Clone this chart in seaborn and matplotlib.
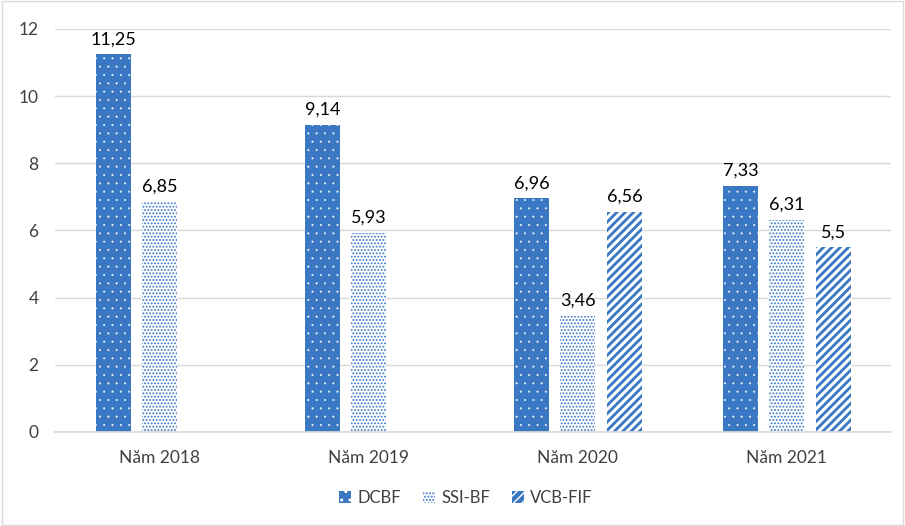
import pandas as pd
import numpy as np
import matplotlib.pyplot as plt
import matplotlib.patches as mpatches
import seaborn as sns

# data
years = ['Năm 2018', 'Năm 2019', 'Năm 2020', 'Năm 2021']
funds = ['DCBF', 'SSI-BF', 'VCB-FIF']
dcbf = [11.25, 9.14, 6.96, 7.33]
ssi_bf = [6.85, 5.93, 3.46, 6.31]
vcb_fif = [np.nan, np.nan, 6.56, 5.5]

df = pd.DataFrame({
    'year': years * 3,
    'fund': [f for f in funds for _ in years],
    'value': dcbf + ssi_bf + vcb_fif,
})

blue = '#3b78c4'

sns.set_theme(style='white')
plt.rcParams['font.family'] = ['Lato', 'DejaVu Sans']

fig = plt.figure(figsize=(9.05, 5.26), dpi=100)
ax = fig.add_axes([0.061, 0.179, 0.924, 0.766])

sns.barplot(data=df, x='year', y='value', hue='fund', hue_order=funds,
            order=years, width=0.667, gap=0.247, ax=ax, legend=False,
            palette=[blue, 'white', blue], saturation=1, errorbar=None)

# patterns: (facecolor, hatch colour, hatch, hatch linewidth)
styles = [(blue, 'white', '..', 0.2),
          ('white', blue, '.....', 0.9),
          (blue, 'white', '////', 2.2)]

for cont, (fc, hc, hatch, hlw) in zip(ax.containers, styles):
    for bar in cont:
        bar.set_facecolor(fc)
        bar.set_edgecolor(hc)
        bar.set_linewidth(0)
        bar.set_hatch(hatch)
        if hasattr(bar, 'set_hatch_linewidth'):
            bar.set_hatch_linewidth(hlw)

# value labels, comma decimals
for cont in ax.containers:
    for bar in cont:
        h = bar.get_height()
        if np.isnan(h) or h == 0:
            continue
        txt = ('%g' % h).replace('.', ',')
        ax.annotate(txt, (bar.get_x() + bar.get_width() / 2, h),
                    textcoords='offset points', xytext=(0, 5),
                    ha='center', va='bottom', fontsize=13, color='black')

ax.set_ylim(0, 12)
ax.set_xlim(-0.5, 3.5)
ax.set_yticks(range(0, 13, 2))
ax.yaxis.grid(True, color='#d9d9d9', linewidth=1)
ax.set_axisbelow(True)
ax.set_xlabel('')
ax.set_ylabel('')
for s in ['top', 'right', 'left']:
    ax.spines[s].set_visible(False)
ax.spines['bottom'].set_color('#d9d9d9')
ax.tick_params(axis='both', length=0, labelsize=12.5, colors='#404040')
ax.tick_params(axis='x', pad=13)
ax.tick_params(axis='y', pad=12)

# legend
handles = []
for fund, (fc, hc, hatch, hlw) in zip(funds, styles):
    p = mpatches.Patch(facecolor=fc, edgecolor=hc, hatch=hatch, linewidth=0, label=fund)
    if hasattr(p, 'set_hatch_linewidth'):
        p.set_hatch_linewidth(hlw)
    handles.append(p)
fig.legend(handles=handles, loc='center', bbox_to_anchor=(0.515, 0.054), ncol=3,
           frameon=False, fontsize=12, handlelength=0.7, handleheight=0.7,
           handletextpad=0.4, columnspacing=1.3, labelcolor='#404040')

# chart border
fig.patches.append(mpatches.Rectangle((0.002, 0.002), 0.996, 0.996, transform=fig.transFigure,
                                      fill=False, edgecolor='#d9d9d9', linewidth=1))

plt.savefig('out.png', dpi=100)
